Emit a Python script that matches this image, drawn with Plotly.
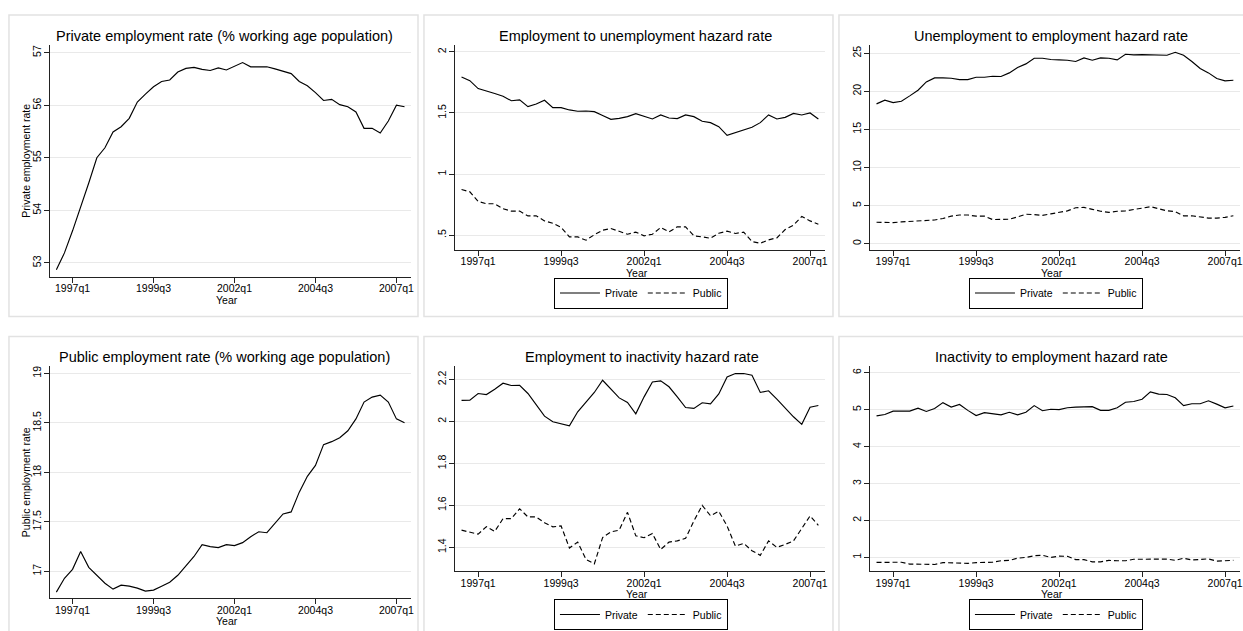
import plotly.graph_objects as go

W, H = 1243, 631
FONT = "Liberation Sans, Arial, sans-serif"

# Quarterly time axis
quarters = [
    "1996q3", "1996q4",
    "1997q1", "1997q2", "1997q3", "1997q4",
    "1998q1", "1998q2", "1998q3", "1998q4",
    "1999q1", "1999q2", "1999q3", "1999q4",
    "2000q1", "2000q2", "2000q3", "2000q4",
    "2001q1", "2001q2", "2001q3", "2001q4",
    "2002q1", "2002q2", "2002q3", "2002q4",
    "2003q1", "2003q2", "2003q3", "2003q4",
    "2004q1", "2004q2", "2004q3", "2004q4",
    "2005q1", "2005q2", "2005q3", "2005q4",
    "2006q1", "2006q2", "2006q3", "2006q4",
    "2007q1", "2007q2",
]
tick_quarters = ["1997q1", "1999q3", "2002q1", "2004q3", "2007q1"]

# Employment rates (% of working age population)
private_emp_rate = [52.87, 53.19, 53.61, 54.05, 54.52, 55.0, 55.19, 55.49, 55.59, 55.75,
                    56.06, 56.21, 56.35, 56.45, 56.48, 56.63, 56.70, 56.72, 56.68, 56.66,
                    56.71, 56.67, 56.74, 56.81, 56.73, 56.73, 56.73, 56.69, 56.65, 56.60,
                    56.45, 56.37, 56.24, 56.09, 56.11, 56.01, 55.97, 55.87, 55.56, 55.56,
                    55.47, 55.70, 56.00, 55.97]
public_emp_rate = [16.79, 16.93, 17.02, 17.20, 17.04, 16.96, 16.88, 16.82, 16.86, 16.85,
                   16.83, 16.80, 16.81, 16.85, 16.89, 16.96, 17.06, 17.15, 17.27, 17.25,
                   17.24, 17.27, 17.26, 17.29, 17.35, 17.40, 17.39, 17.49, 17.58, 17.60,
                   17.80, 17.96, 18.07, 18.28, 18.31, 18.35, 18.42, 18.54, 18.71, 18.76,
                   18.78, 18.71, 18.54, 18.50]

# Employment -> unemployment hazard
eu_private = [1.795, 1.765, 1.70, 1.683, 1.66, 1.637, 1.60, 1.607, 1.552, 1.574,
              1.604, 1.544, 1.544, 1.525, 1.514, 1.516, 1.511, 1.48, 1.448, 1.456,
              1.47, 1.495, 1.475, 1.451, 1.484, 1.459, 1.454, 1.484, 1.47, 1.432,
              1.421, 1.388, 1.317, 1.339, 1.358, 1.383, 1.421, 1.484, 1.451, 1.464,
              1.497, 1.484, 1.50, 1.451]
eu_public = [0.874, 0.855, 0.776, 0.757, 0.757, 0.716, 0.697, 0.697, 0.658, 0.658,
             0.617, 0.598, 0.563, 0.486, 0.486, 0.459, 0.503, 0.541, 0.555, 0.530,
             0.508, 0.525, 0.495, 0.508, 0.563, 0.527, 0.568, 0.568, 0.495, 0.486,
             0.475, 0.516, 0.533, 0.514, 0.525, 0.448, 0.434, 0.462, 0.478, 0.546,
             0.582, 0.653, 0.617, 0.590]

# Unemployment -> employment hazard
ue_private = [18.35, 18.83, 18.52, 18.70, 19.40, 20.14, 21.23, 21.76, 21.76, 21.72,
              21.54, 21.54, 21.85, 21.85, 21.98, 21.94, 22.42, 23.12, 23.60, 24.34,
              24.34, 24.17, 24.12, 24.08, 23.91, 24.39, 24.08, 24.39, 24.34, 24.12,
              24.87, 24.78, 24.82, 24.78, 24.74, 24.74, 25.13, 24.74, 23.91, 22.99,
              22.42, 21.67, 21.37, 21.45]
ue_public = [2.80, 2.76, 2.76, 2.85, 2.89, 2.93, 3.06, 3.10, 3.30, 3.60,
             3.75, 3.75, 3.60, 3.60, 3.15, 3.15, 3.20, 3.50, 3.85, 3.80,
             3.70, 3.90, 4.10, 4.30, 4.70, 4.75, 4.50, 4.25, 4.10, 4.25,
             4.30, 4.45, 4.65, 4.85, 4.60, 4.30, 4.20, 3.65, 3.65, 3.50,
             3.35, 3.35, 3.45, 3.65]

# Employment -> inactivity hazard
ei_private = [2.100, 2.101, 2.133, 2.128, 2.153, 2.182, 2.171, 2.172, 2.133, 2.081,
              2.025, 1.998, 1.990, 1.979, 2.046, 2.090, 2.138, 2.196, 2.153, 2.112,
              2.090, 2.036, 2.117, 2.188, 2.193, 2.165, 2.117, 2.066, 2.062, 2.089,
              2.084, 2.131, 2.212, 2.228, 2.228, 2.220, 2.138, 2.146, 2.106, 2.062,
              2.022, 1.986, 2.068, 2.076]
ei_public = [1.482, 1.474, 1.463, 1.499, 1.476, 1.537, 1.537, 1.584, 1.545, 1.545,
             1.517, 1.498, 1.502, 1.397, 1.425, 1.343, 1.321, 1.447, 1.474, 1.482,
             1.567, 1.455, 1.446, 1.466, 1.390, 1.425, 1.431, 1.443, 1.526, 1.600,
             1.551, 1.572, 1.502, 1.406, 1.419, 1.384, 1.362, 1.431, 1.400, 1.414,
             1.431, 1.490, 1.550, 1.505]

# Inactivity -> employment hazard
ie_private = [4.83, 4.87, 4.96, 4.95, 4.96, 5.04, 4.95, 5.03, 5.19, 5.07,
              5.14, 4.98, 4.84, 4.92, 4.88, 4.86, 4.93, 4.86, 4.93, 5.11,
              4.97, 5.01, 5.00, 5.05, 5.07, 5.07, 5.08, 4.98, 4.98, 5.05,
              5.20, 5.22, 5.28, 5.48, 5.42, 5.41, 5.32, 5.11, 5.16, 5.16,
              5.24, 5.15, 5.05, 5.10]
ie_public = [0.865, 0.865, 0.88, 0.87, 0.82, 0.82, 0.82, 0.81, 0.86, 0.855,
             0.85, 0.84, 0.86, 0.86, 0.87, 0.91, 0.92, 0.98, 1.00, 1.045,
             1.06, 1.00, 1.035, 1.03, 0.94, 0.94, 0.88, 0.88, 0.92, 0.91,
             0.91, 0.95, 0.955, 0.96, 0.97, 0.955, 0.92, 0.98, 0.93, 0.95,
             0.96, 0.90, 0.91, 0.92]


def px_x(a, b):
    return [a / W, min(b / W, 1.0)]


def px_y(top, bottom):
    return [1 - bottom / H, 1 - top / H]


panels = [
    dict(title="Private employment rate (% working age population)",
         box=(9, 14), plot=(50, 412, 44, 276), title_x=225,
         yrange=[52.74, 57.146], yticks=[53, 54, 55, 56, 57],
         ytext=["53", "54", "55", "56", "57"],
         ytitle="Private employment rate",
         series=[("Private employment rate", private_emp_rate, "solid")], legend=None),
    dict(title="Employment to unemployment hazard rate",
         box=(425, 14), plot=(456, 827, 44, 249), title_x=637,
         yrange=[0.382, 2.057], yticks=[0.5, 1, 1.5, 2],
         ytext=[".5", "1", "1.5", "2"], ytitle=None,
         series=[("Private", eu_private, "solid"), ("Public", eu_public, "dash")],
         legend="legend"),
    dict(title="Unemployment to employment hazard rate",
         box=(841, 14), plot=(872, 1243, 44, 249), title_x=1054,
         yrange=[-0.79, 26.09], yticks=[0, 5, 10, 15, 20, 25],
         ytext=["0", "5", "10", "15", "20", "25"], ytitle=None,
         series=[("Private", ue_private, "solid"), ("Public", ue_public, "dash")],
         legend="legend2"),
    dict(title="Public employment rate (% working age population)",
         box=(9, 336), plot=(50, 412, 366, 598), title_x=225,
         yrange=[16.73, 19.07], yticks=[17, 17.5, 18, 18.5, 19],
         ytext=["17", "17.5", "18", "18.5", "19"],
         ytitle="Public employment rate",
         series=[("Public employment rate", public_emp_rate, "solid")], legend=None),
    dict(title="Employment to inactivity hazard rate",
         box=(425, 336), plot=(456, 827, 366, 571), title_x=644,
         yrange=[1.287, 2.262], yticks=[1.4, 1.6, 1.8, 2.0, 2.2],
         ytext=["1.4", "1.6", "1.8", "2", "2.2"], ytitle=None,
         series=[("Private", ei_private, "solid"), ("Public", ei_public, "dash")],
         legend="legend3"),
    dict(title="Inactivity to employment hazard rate",
         box=(841, 336), plot=(872, 1243, 366, 571), title_x=1054,
         yrange=[0.63, 6.17], yticks=[1, 2, 3, 4, 5, 6],
         ytext=["1", "2", "3", "4", "5", "6"], ytitle=None,
         series=[("Private", ie_private, "solid"), ("Public", ie_public, "dash")],
         legend="legend4"),
]

fig = go.Figure()
layout = dict(
    width=W, height=H,
    margin=dict(l=0, r=0, t=0, b=0),
    paper_bgcolor="white", plot_bgcolor="white",
    font=dict(family=FONT, size=10.5, color="black"),
    shapes=[], annotations=[],
)

AXIS_COLOR = "#222222"
GRID_COLOR = "#e9e9e9"
BOX_COLOR = "#e2e2e2"
BOX_W, BOX_H = 410, 302

for k, p in enumerate(panels, start=1):
    suffix = "" if k == 1 else str(k)
    xa, ya = "x" + suffix, "y" + suffix
    left, right, top, bottom = p["plot"]

    # outer graph region frame
    bx, by = p["box"]
    layout["shapes"].append(dict(
        type="rect", xref="paper", yref="paper",
        x0=bx / W, x1=(bx + BOX_W) / W, y0=1 - (by + BOX_H) / H, y1=1 - by / H,
        line=dict(color=BOX_COLOR, width=1.5), fillcolor="rgba(0,0,0,0)", layer="below"))

    layout["xaxis" + suffix] = dict(
        domain=px_x(left, right), anchor=ya, type="category",
        range=[-0.8, 43.8], tickmode="array", tickvals=tick_quarters, ticktext=tick_quarters,
        showline=True, linecolor=AXIS_COLOR, linewidth=1, ticks="outside", ticklen=5,
        tickcolor=AXIS_COLOR, tickwidth=1, showgrid=False, zeroline=False,
        tickfont=dict(size=10.5, family=FONT), tickangle=0, ticklabelstandoff=-3,
        fixedrange=True)
    layout["yaxis" + suffix] = dict(
        domain=px_y(top, bottom), anchor=xa, range=p["yrange"],
        tickmode="array", tickvals=p["yticks"], ticktext=p["ytext"],
        showline=True, linecolor=AXIS_COLOR, linewidth=1, ticks="outside", ticklen=5,
        tickcolor=AXIS_COLOR, tickwidth=1, showgrid=True, gridcolor=GRID_COLOR, gridwidth=1,
        zeroline=False, tickangle=-90, tickfont=dict(size=10.5, family=FONT),
        ticklabelstandoff=-1, fixedrange=True)

    for name, values, dash in p["series"]:
        tr = dict(x=quarters, y=values, mode="lines", name=name,
                  line=dict(color="black", width=1.15, dash="solid" if dash == "solid" else "5px,3px"),
                  xaxis=xa, yaxis=ya, hoverinfo="x+y")
        if p["legend"]:
            tr["legend"] = p["legend"]
            tr["showlegend"] = True
        else:
            tr["showlegend"] = False
        fig.add_trace(go.Scatter(**tr))

    if p["legend"]:
        layout[p["legend"]] = dict(
            x=((left + right) / 2 + 1) / W, y=1 - (bottom + 43.5) / H,
            xanchor="center", yanchor="middle", orientation="h",
            bordercolor="black", borderwidth=1, bgcolor="white",
            font=dict(size=10.5, family=FONT), itemwidth=40,
            tracegroupgap=0, traceorder="normal")

    # panel title
    layout["annotations"].append(dict(
        text=p["title"], xref="paper", yref="paper",
        x=p["title_x"] / W, y=1 - (top - 9) / H, xanchor="center", yanchor="middle",
        showarrow=False, font=dict(size=14.5, family=FONT, color="black")))
    # x axis title
    layout["annotations"].append(dict(
        text="Year", xref="paper", yref="paper",
        x=((left + right) / 2 - 3) / W, y=1 - (bottom + 23) / H,
        xanchor="center", yanchor="middle", showarrow=False,
        font=dict(size=10.5, family=FONT, color="black")))
    # y axis title
    if p["ytitle"]:
        layout["annotations"].append(dict(
            text=p["ytitle"], xref="paper", yref="paper",
            x=26 / W, y=1 - ((top + bottom) / 2) / H, xanchor="center", yanchor="middle",
            textangle=-90, showarrow=False,
            font=dict(size=10.5, family=FONT, color="black")))

fig.update_layout(**layout)
fig.write_html("out.html")
